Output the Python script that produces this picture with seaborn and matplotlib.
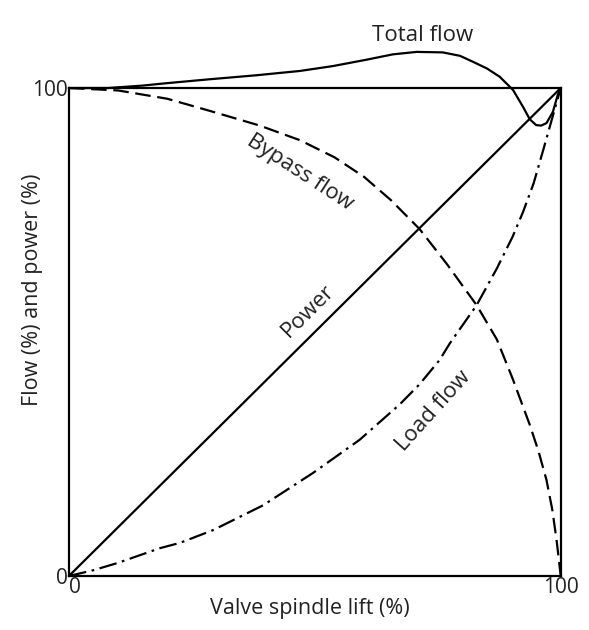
import matplotlib
matplotlib.use("Agg")
import matplotlib.pyplot as plt
import seaborn as sns

sns.set_theme(style="white")
plt.rcParams['font.family'] = ['Open Sans', 'DejaVu Sans']

# Data (x = valve spindle lift %, y = %)
total_x = [0, 5, 8, 15, 20, 28.7, 38, 47, 53.7, 60.5, 65.9, 70.7, 76, 79.5, 82.1, 85, 87.6, 90.3,
           92.3, 93.7, 95, 96, 97.1, 98.4, 99.4, 100]
total_y = [100, 100, 100, 100.5, 101, 101.8, 102.6, 103.5, 104.5, 105.8, 106.9, 107.4, 107.3, 106.6, 105.4,
           104, 102.3, 99.6, 96.2, 93.6, 92.4, 92.3, 92.8, 95.1, 98.6, 100]

bypass_x = [0, 10, 20, 28.7, 38.8, 47, 54, 60, 65.5, 71.3, 76.8, 82.9, 87, 90.2, 93.7,
            95.5, 97.1, 98.3, 99.2, 100]
bypass_y = [100, 99.5, 97.8, 95.3, 92.3, 89.3, 85.8, 81.8, 77, 71.1, 64, 55.5, 48.5, 40.5, 31,
            25.5, 19.7, 13.5, 7, 0]

load_x = [0, 5, 10, 18.5, 22.6, 29.3, 39.5, 49.6, 59.1, 67.3, 71.3, 75.4, 77.4, 82.9, 87, 90.2, 92.3, 94.5,
          96.5, 98.4, 100]
load_y = [0, 1.2, 2.7, 5.7, 6.8, 9.4, 14.5, 21.1, 27.9, 35.2, 39.3, 44.3, 47.6, 55.5, 63, 69.5, 74.5, 80.5,
          87.5, 94.3, 100]

power_x = [0, 100]
power_y = [0, 100]

x_ticks = [0, 100]
y_ticks = [0, 100]

fig = plt.figure(figsize=(5.89, 6.30), dpi=100)
ax = fig.add_axes([0.117, 0.0857, 0.835, 0.7746])

lw = 1.6
sns.lineplot(x=total_x, y=total_y, ax=ax, color="black", lw=lw, clip_on=False)
sns.lineplot(x=bypass_x, y=bypass_y, ax=ax, color="black", lw=lw, clip_on=False)
sns.lineplot(x=load_x, y=load_y, ax=ax, color="black", lw=lw, clip_on=False)
sns.lineplot(x=power_x, y=power_y, ax=ax, color="black", lw=lw, clip_on=False)

lines = ax.get_lines()
lines[1].set_dashes([7, 3])
lines[2].set_dashes([8, 2.5, 1.2, 2.5])
for ln in lines:
    ln.set_solid_joinstyle("round")
    ln.set_dash_joinstyle("round")

ax.set_xlim(0, 100)
ax.set_ylim(0, 100)
ax.set_xticks(x_ticks)
ax.set_yticks(y_ticks)
ax.set_xticklabels([str(v) for v in x_ticks], fontsize=15, color="#222222")
ax.set_yticklabels([str(v) for v in y_ticks], fontsize=15, color="#222222")
ax.tick_params(axis="both", length=0, pad=1)
xl = ax.get_xticklabels()
xl[0].set_horizontalalignment("left")
xl[1].set_horizontalalignment("center")
for s in ax.spines.values():
    s.set_visible(True)
    s.set_color("black")
    s.set_linewidth(1.6)

ax.set_xlabel("Valve spindle lift (%)", fontsize=15.5, color="#222222")
ax.set_ylabel("Flow (%) and power (%)", fontsize=15.5, color="#222222")
ax.xaxis.set_label_coords(0.49, -0.045, transform=ax.transAxes)
ax.yaxis.set_label_coords(-0.075, 0.586, transform=ax.transAxes)
ax.xaxis.label.set_va("top")
ax.yaxis.label.set_va("center")

txt_kw = dict(fontsize=16, color="#222222", ha="center", va="center")
ax.text(72, 110.8, "Total flow", clip_on=False, **txt_kw)
ax.text(47, 82.6, "Bypass flow", rotation=-33, **txt_kw)
ax.text(48.6, 54.3, "Power", rotation=45, **txt_kw)
ax.text(74.2, 33.8, "Load flow", rotation=48, **txt_kw)

fig.savefig("out.png", dpi=100, facecolor="white")
